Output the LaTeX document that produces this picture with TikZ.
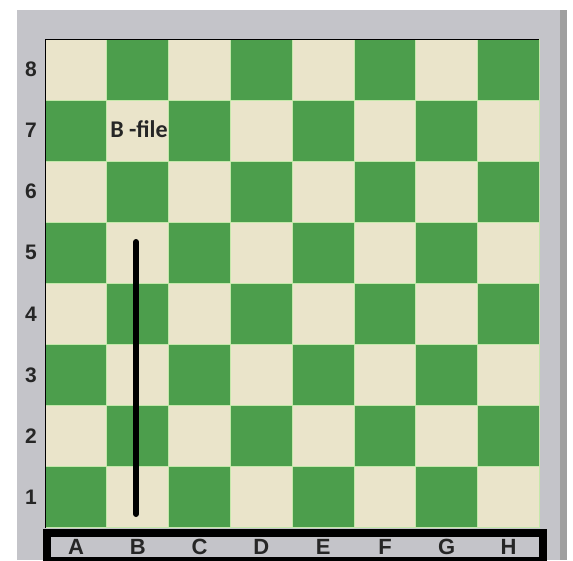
\documentclass[tikz,border=0pt]{standalone}
\usepackage{fontspec}
\setmainfont{Liberation Sans}
\newfontfamily\calibrifont{Carlito}
\definecolor{boardGreen}{RGB}{76,158,76}
\definecolor{boardCream}{RGB}{234,228,202}
\definecolor{panelGray}{RGB}{196,196,201}
\definecolor{seamGreen}{RGB}{196,232,170}

\begin{document}
\begin{tikzpicture}[
    x=1pt, y=-1pt,
    lightSq/.style={fill=boardCream, draw=seamGreen, line width=0.8pt},
    darkSq/.style={fill=boardGreen, draw=seamGreen, line width=0.8pt},
    rankLbl/.style={font=\fontsize{21}{21}\selectfont\bfseries, text=black!85},
    fileLbl/.style={font=\fontsize{22}{22}\selectfont\bfseries, text=black!85},
    fileBar/.style={draw=black, line width=8pt, fill=panelGray}
]
    \useasboundingbox (0,0) rectangle (573,560);
    \clip (0,0) rectangle (573,560);
    \fill[white] (0,0) rectangle (573,560);
    % panel behind the board
    \fill[panelGray] (17,10) rectangle (567,560);
    \fill[gray!75] (560,10) rectangle (567,560);

    % squares
    \foreach \c in {0,...,7} {
        \foreach \r in {0,...,7} {
            \pgfmathtruncatemacro\sqShade{mod(\c+\r,2)}
            \ifnum\sqShade=0
                \draw[lightSq] ({45+61.8*\c},{39+61.1*\r}) rectangle ++(61.8,61.1);
            \else
                \draw[darkSq] ({45+61.8*\c},{39+61.1*\r}) rectangle ++(61.8,61.1);
            \fi
        }
    }
    \draw[black, line width=1pt] (45,528) -- (45,39) -- (539,39);

    % ranks
    \foreach \r in {1,...,8} {
        \node[rankLbl] (rank\r) at (31,{39+61.1*(8-\r)+30.5}) {\r};
    }

    % files
    \draw[fileBar] (47,532.5) rectangle (543,561);
    \foreach \f [count=\i from 0] in {A,B,C,D,E,F,G,H} {
        \node[fileLbl] (file\f) at ({76+61.8*\i},547) {\f};
    }

    % the B-file
    \node[font=\calibrifont\fontsize{24}{24}\selectfont\bfseries, text=black!85] (bfileLbl) at (139,129) {B -file};
    \coordinate (bTop) at (136,242);
    \coordinate (bBot) at (136,514);
    \draw[line width=6pt, line cap=round] (bTop) -- (bBot);
\end{tikzpicture}
\end{document}
